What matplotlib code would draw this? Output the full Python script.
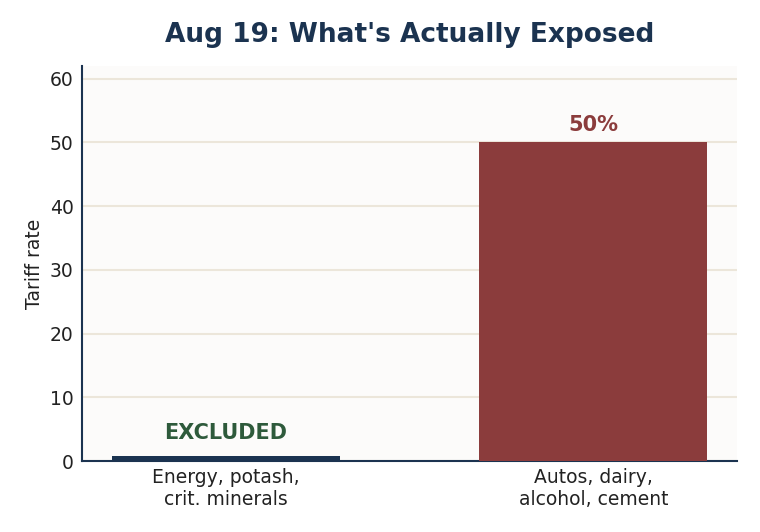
import matplotlib
matplotlib.use("Agg")
import matplotlib.pyplot as plt

categories = ["Energy, potash,\ncrit. minerals", "Autos, dairy,\nalcohol, cement"]
values = [0.9, 50]
labels = ["EXCLUDED", "50%"]
bar_colors = ["#1b3350", "#8b3c3c"]
label_colors = ["#2e5a3b", "#8b3c3c"]

fig, ax = plt.subplots(figsize=(7.6, 5.32), dpi=100)
fig.subplots_adjust(left=0.108, right=0.97, top=0.876, bottom=0.133)
ax.set_facecolor("#fcfbfa")
x = range(len(categories))
bars = ax.bar(x, values, width=0.62, color=bar_colors, zorder=3)
ax.set_xticks(list(x))
ax.set_xticklabels(categories, fontsize=13.5, color="#222222")
ax.set_ylim(0, 62)
ax.set_yticks(range(0, 61, 10))
ax.tick_params(axis="y", labelsize=13.5, colors="#222222", length=0, pad=6)
ax.tick_params(axis="x", length=0, pad=5)
ax.grid(axis="y", color="#ece6da", linewidth=1.5, zorder=0)
for s in ["top", "right"]:
    ax.spines[s].set_visible(False)
for s in ["left", "bottom"]:
    ax.spines[s].set_color("#1b3350")
    ax.spines[s].set_linewidth(1.5)
ax.set_ylabel("Tariff rate", fontsize=13.5, color="#222222", labelpad=4.5)
ax.set_title("Aug 19: What's Actually Exposed", fontsize=19, fontweight="bold", color="#1b3350", pad=17)
offsets = [1.9, 1.2]
for i, (v, lab) in enumerate(zip(values, labels)):
    ax.text(i, v + offsets[i], lab, ha="center", va="bottom", fontsize=15, fontweight="bold", color=label_colors[i], zorder=4)
fig.savefig("out.png", dpi=100)
